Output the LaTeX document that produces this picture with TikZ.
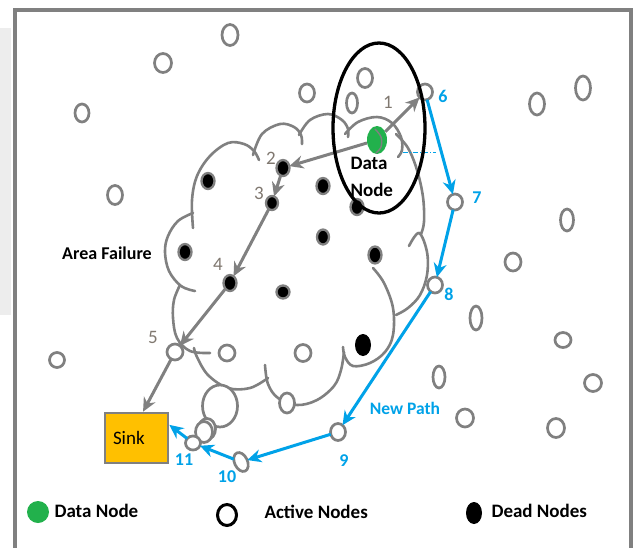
\documentclass[tikz,border=0pt]{standalone}
\usepackage{fontspec}
\setmainfont{Carlito}
\usetikzlibrary{shapes.geometric,arrows.meta,calc}
\definecolor{lgray}{RGB}{128,128,128}
\definecolor{pathblue}{RGB}{0,162,232}
\definecolor{datagreen}{RGB}{34,177,76}
\definecolor{sinkgold}{RGB}{255,192,0}
\definecolor{numgray}{RGB}{128,120,112}
% active sensor: name, position, width, height
\newcommand\actnode[4]{\node[act,minimum width=#3pt,minimum height=#4pt] (#1) at (#2) {};}
% failed sensor: name, position, width, height
\newcommand\deadnode[4]{\node[dead,minimum width=#3pt,minimum height=#4pt] (#1) at (#2) {};}
\begin{document}
\begin{tikzpicture}[x=1pt,y=-1pt,
  act/.style={ellipse, draw=lgray, line width=2.7pt, fill=white, inner sep=0pt, outer sep=0pt},
  dead/.style={ellipse, draw=lgray, line width=2.3pt, fill=black, inner sep=0pt, outer sep=0pt},
  lobe/.style={draw=lgray, line width=2.6pt, line cap=round},
  link/.style={draw=lgray, line width=3pt, -{Stealth[length=14pt,width=13pt]}},
  newpath/.style={draw=pathblue, line width=3pt, -{Stealth[length=14pt,width=13pt]}},
  num/.style={text=numgray, font=\fontsize{19pt}{19pt}\selectfont},
  bnum/.style={text=pathblue, font=\bfseries\fontsize{18pt}{18pt}\selectfont},
  lbl/.style={font=\bfseries\fontsize{19pt}{27pt}\selectfont},
]
\useasboundingbox (0,0) rectangle (635,547);
\clip (0,0) rectangle (635,547);
\fill[white] (0,0) rectangle (635,547);
\fill[gray!14] (0,28) rectangle (11,315);
% outer frame
\draw[lgray, line width=4.5pt] (15,10) rectangle (631,580);

% area-failure cloud, one arc per lobe
\draw[lobe] plot[smooth, tension=0.6] coordinates {(193,228) (192,200) (197,176) (210,156) (228,143) (244,144) (254,151) (259,160)};
\draw[lobe] plot[smooth, tension=0.6] coordinates {(193,213) (178,221) (168,236) (165,252) (169,271) (181,286) (195,291)};
\draw[lobe] plot[smooth, tension=0.6] coordinates {(253,155) (262,134) (280,124) (294,127) (301,135) (302,144)};
\draw[lobe] plot[smooth, tension=0.6] coordinates {(299,135) (310,120) (328,114) (342,120) (348,129) (348,137)};
\draw[lobe] plot[smooth, tension=0.6] coordinates {(345,134) (358,122) (377,117) (392,123) (401,137) (402,150) (398,157)};
\draw[lobe] plot[smooth, tension=0.6] coordinates {(396,134) (408,148) (417,170) (423,197) (424,222) (421,234)};
\draw[lobe] plot[smooth, tension=0.6] coordinates {(409,246) (419,233) (427,252) (427,275) (420,295) (408,308) (396,315)};
\draw[lobe] plot[smooth, tension=0.6] coordinates {(373,268) (384,283) (393,308) (393,335) (385,352) (370,363) (353,366) (345,357) (343,347)};
\draw[lobe] plot[smooth, tension=0.6] coordinates {(344,352) (341,370) (334,386) (317,400) (297,405) (278,398) (268,384) (265,365)};
\draw[lobe] plot[smooth, tension=0.6] coordinates {(268,378) (250,388) (228,388) (208,375) (197,357) (194,348)};
\draw[lobe] plot[smooth, tension=0.6] coordinates {(180,285) (174,300) (173,318) (177,338) (190,351) (210,353)};

% active nodes
\actnode{a1}{230,35}{16}{21}
\actnode{a2}{163,63}{17}{19}
\actnode{a3}{82,113}{14}{18}
\actnode{a4}{307,93}{15}{18}
\actnode{a5}{115,195}{15}{19}
\actnode{a6}{365,78}{15}{19}
\actnode{a7}{352,103}{11}{20}
\actnode{n6}{425,92}{15}{16}
\actnode{a8}{537,104}{15}{22}
\actnode{a9}{583,88}{15}{24}
\actnode{n7}{455,202}{15}{16}
\actnode{a10}{567,220}{13}{22}
\actnode{a11}{513,262}{16}{18}
\actnode{n8}{435,285}{15}{16}
\actnode{a12}{476,318}{12}{24}
\actnode{a13}{563,340}{16}{15}
\actnode{a14}{593,383}{17}{17}
\actnode{a15}{439,377}{12}{22}
\actnode{a16}{465,418}{17}{18}
\actnode{a17}{556,428}{17}{19}
\actnode{n9}{338,432}{15}{17}
\actnode{a18}{57,360}{15}{15}
\actnode{n5}{175,352}{16}{16}
\actnode{a19}{227,353}{16}{16}
\actnode{a20}{303,353}{16}{17}
\actnode{a21}{287,403}{15}{20}
% cloud tail bubbles
\actnode{b1}{220,406}{35}{42}
\actnode{b2}{207,429}{17}{21}
\actnode{b3}{204,432}{17}{21}
\actnode{n11}{193,443}{15}{14}
\node[act, minimum width=13pt, minimum height=20pt, rotate=25] (n10) at (241,462) {};

% failed nodes
\deadnode{n2}{283,168}{13}{16}
\deadnode{n3}{272,203}{12}{14}
\deadnode{d1}{208,181}{13}{16}
\deadnode{d2}{323,186}{13}{16}
\deadnode{d3}{357,207}{13}{16}
\deadnode{d4}{323,237}{12}{15}
\deadnode{d5}{375,255}{13}{17}
\deadnode{d6}{185,252}{13}{16}
\deadnode{n4}{230,283}{13}{16}
\deadnode{d7}{283,292}{13}{13}
\node[ellipse, fill=black, inner sep=0pt, minimum width=16pt, minimum height=22pt] (d8) at (363,345) {};

% source node
\node[ellipse, fill=datagreen, inner sep=0pt, minimum width=20pt, minimum height=28pt] (src) at (377,140) {};
\draw[lobe, line width=1.4pt] plot[smooth, tension=0.6] coordinates {(375,129) (381,137) (381,147) (376,153)};

% sink
\node[draw=lgray, line width=2.6pt, fill=sinkgold, minimum height=50pt, inner xsep=8pt,
      text width=47pt, align=left, font=\fontsize{19pt}{19pt}\selectfont] (sink) at (136.5,438) {Sink};

% original route
\draw[link] (src) -- (n6);
\draw[link] (src) -- (n2);
\draw[link] (n2) -- (n3);
\draw[link] (n3) -- (n4);
\draw[link] (n4) -- (n5);
\coordinate (sinktop) at ($(sink.north west)!0.6!(sink.north east)$);
\draw[link] (n5) -- (sinktop);

% new route
\draw[newpath] (n6) -- (n7);
\draw[newpath] (n7) -- (n8);
\draw[newpath] (n8) -- (n9);
\draw[newpath] (n9) -- (n10);
\draw[newpath] (n10) -- (n11);
\coordinate (sinkside) at ($(sink.north east)!0.25!(sink.south east)$);
\draw[newpath] (n11) -- (sinkside);
\draw[pathblue, line width=1pt, dash pattern=on 5pt off 2pt on 1pt off 2pt] (403,152) -- (436,152);

% communication range of the source
\draw[black, line width=3.3pt] (379,128) ellipse [x radius=46, y radius=85];

% labels
\node[lbl, anchor=west, align=left] at (347,177) {Data\\Node};
\node[font=\bfseries\fontsize{18pt}{18pt}\selectfont] at (107,253) {Area Failure};
\node[text=pathblue, font=\bfseries\fontsize{17.5pt}{17.5pt}\selectfont] at (405,408) {New Path};
\node[num] at (388,102) {1};
\node[num] at (271,158) {2};
\node[num] at (259,193) {3};
\node[num] at (218,264) {4};
\node[num] at (153,337) {5};
\node[bnum] at (443,96) {6};
\node[bnum] at (477,198) {7};
\node[bnum] at (449,294) {8};
\node[bnum] at (344,461) {9};
\node[bnum] at (227,477) {10};
\node[bnum] at (184,460) {11};

% legend
\node[circle, fill=datagreen, inner sep=0pt, minimum size=22pt] (lg1) at (38,512) {};
\node[lbl, anchor=west] (lt1) at (51,511) {Data Node};
\node[ellipse, draw=black, line width=3pt, fill=white, inner sep=0pt, minimum width=19pt, minimum height=21pt] (lg2) at (227,515) {};
\node[lbl, anchor=west] (lt2) at (261,512) {Active Nodes};
\node[ellipse, fill=black, inner sep=0pt, minimum width=16pt, minimum height=22pt] (lg3) at (474,513) {};
\node[lbl, anchor=west] (lt3) at (488,511) {Dead Nodes};
\end{tikzpicture}
\end{document}
